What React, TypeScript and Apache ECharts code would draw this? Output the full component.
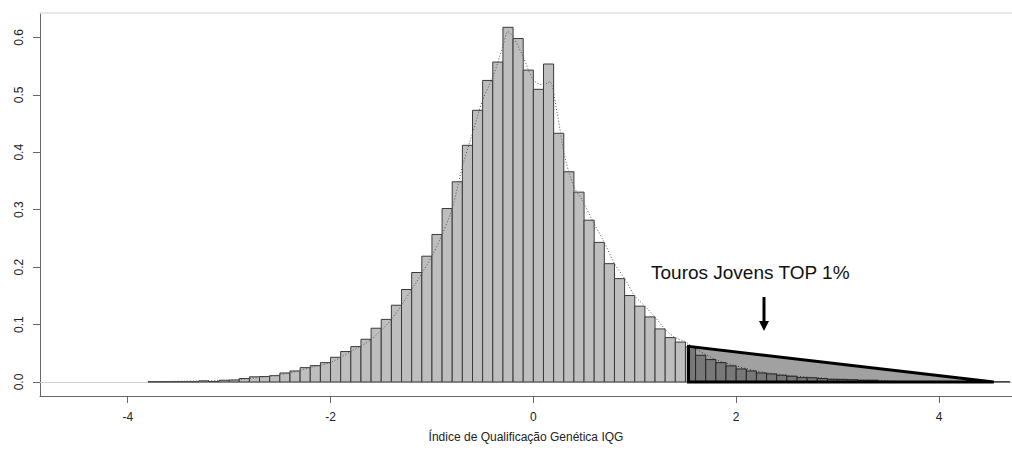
import React, { useEffect, useRef } from "react";
import * as echarts from "echarts";

// Histogram bins (left edge, width 0.1) and densities
const binStarts: number[] = [
  -3.8, -3.7, -3.6, -3.5, -3.4, -3.3, -3.2, -3.1, -3.0, -2.9, -2.8, -2.7, -2.6, -2.5,
  -2.4, -2.3, -2.2, -2.1, -2.0, -1.9, -1.8, -1.7, -1.6, -1.5, -1.4, -1.3, -1.2, -1.1,
  -1.0, -0.9, -0.8, -0.7, -0.6, -0.5, -0.4, -0.3, -0.2, -0.1, 0.0, 0.1, 0.2, 0.3,
  0.4, 0.5, 0.6, 0.7, 0.8, 0.9, 1.0, 1.1, 1.2, 1.3, 1.4, 1.5, 1.6, 1.7, 1.8, 1.9,
  2.0, 2.1, 2.2, 2.3, 2.4, 2.5, 2.6, 2.7, 2.8, 2.9, 3.0, 3.1, 3.2, 3.3, 3.4, 3.5,
  3.6, 3.7, 3.8, 3.9, 4.0, 4.1, 4.2, 4.3, 4.4, 4.5, 4.6,
];
const binValues: number[] = [
  0.0005, 0.0005, 0.0005, 0.0005, 0.0005, 0.002, 0.0008, 0.003, 0.0035, 0.006, 0.009, 0.0095, 0.011, 0.0157,
  0.0192, 0.025, 0.0285, 0.0337, 0.043, 0.053, 0.0616, 0.0744, 0.0936, 0.109, 0.1336, 0.161, 0.1906, 0.219,
  0.2568, 0.302, 0.3485, 0.412, 0.473, 0.525, 0.557, 0.6175, 0.598, 0.543, 0.5095, 0.5536, 0.433, 0.366,
  0.3305, 0.2817, 0.243, 0.206, 0.18, 0.1505, 0.132, 0.1133, 0.0924, 0.0773, 0.0695, 0.061, 0.0465, 0.039, 0.0337, 0.028,
  0.0227, 0.0192, 0.0157, 0.014, 0.0117, 0.01, 0.0076, 0.0074, 0.006, 0.0047, 0.0045, 0.004, 0.003, 0.003, 0.001, 0.0008,
  0.0005, 0.0005, 0.0005, 0.0005, 0.0005, 0.0005, 0.0005, 0.0005, 0.0005, 0.0005, 0.0005,
];
const binWidth = 0.1;

// Dotted density curve
const densityX: number[] = [
  -3.8, -3.0, -2.8, -2.6, -2.4, -2.2, -2.0, -1.8, -1.6, -1.4, -1.2, -1.0, -0.9, -0.8,
  -0.7, -0.6, -0.5, -0.4, -0.3, -0.25, -0.2, -0.1, 0.0, 0.1, 0.16, 0.23, 0.31, 0.4,
  0.48, 0.58, 0.7, 0.8, 0.9, 1.0, 1.1, 1.2, 1.3, 1.4, 1.5, 1.6, 1.8, 2.0, 2.2, 2.4,
  2.6, 2.8, 3.0, 3.4, 3.6, 4.6,
];
const densityY: number[] = [
  0.0005, 0.003, 0.006, 0.01, 0.0157, 0.025, 0.034, 0.053, 0.074, 0.109, 0.161, 0.219, 0.257, 0.302,
  0.375, 0.433, 0.491, 0.531, 0.584, 0.61, 0.601, 0.566, 0.526, 0.517, 0.523, 0.473, 0.392, 0.34,
  0.317, 0.282, 0.243, 0.206, 0.18, 0.15, 0.132, 0.113, 0.092, 0.077, 0.07, 0.058, 0.039, 0.028, 0.019, 0.014,
  0.01, 0.0074, 0.005, 0.003, 0.001, 0.0005,
];

// TOP 1% triangle
const triangleX: number[] = [1.53, 1.53, 4.54];
const triangleY: number[] = [0.062, 0, 0];

const xTicks: number[] = [-4, -2, 0, 2, 4];
const yTicks: number[] = [0, 0.1, 0.2, 0.3, 0.4, 0.5, 0.6];

const annotationText = "Touros Jovens TOP 1%";
const xAxisTitle = "Índice de Qualificação Genética IQG";

const FONT = 'Arial, "Liberation Sans", sans-serif';

export default function App() {
  const ref = useRef<HTMLDivElement>(null);

  useEffect(() => {
    if (!ref.current) return;
    const chart = echarts.init(ref.current, undefined, { renderer: "svg" });

    const option: any = {
      animation: false,
      backgroundColor: "#ffffff",
      grid: { left: 40, right: 0, top: 13, bottom: 59, containLabel: false },
      xAxis: [
        {
          type: "value",
          min: -4.865,
          max: 4.72,
          name: xAxisTitle,
          nameLocation: "middle",
          nameGap: 35,
          nameTextStyle: { fontFamily: FONT, fontSize: 12, color: "#222" },
          axisLine: { show: true, onZero: false, lineStyle: { color: "#666", width: 1 } },
          axisTick: { show: true, customValues: xTicks, length: 7, lineStyle: { color: "#666" } },
          axisLabel: {
            show: true,
            customValues: xTicks,
            margin: 15,
            fontFamily: FONT,
            fontSize: 12,
            color: "#222",
            formatter: (v: number) => String(v),
          },
          splitLine: { show: false },
        },
        {
          type: "value",
          position: "top",
          min: -4.865,
          max: 4.72,
          axisLine: { show: true, onZero: false, lineStyle: { color: "#e0e0e0", width: 1.5 } },
          axisTick: { show: false },
          axisLabel: { show: false },
          splitLine: { show: false },
        },
      ],
      yAxis: {
        type: "value",
        min: -0.0244,
        max: 0.6424,
        axisLine: { show: true, onZero: false, lineStyle: { color: "#666", width: 1 } },
        axisTick: { show: true, customValues: yTicks, length: 7, lineStyle: { color: "#666" } },
        axisLabel: {
          show: true,
          customValues: yTicks,
          rotate: 90,
          margin: 15,
          fontFamily: FONT,
          fontSize: 12,
          color: "#222",
          formatter: (v: number) => v.toFixed(1),
        },
        splitLine: { show: false },
      },
      series: [
        {
          type: "custom",
          name: "hist",
          renderItem: (params: any, api: any) => {
            const x0 = api.value(0);
            const v = api.value(1);
            const p0 = api.coord([x0, v]);
            const p1 = api.coord([x0 + binWidth, 0]);
            return {
              type: "rect",
              shape: { x: p0[0], y: p0[1], width: p1[0] - p0[0], height: p1[1] - p0[1] },
              style: { fill: "#bebebe", stroke: "#3a3a3a", lineWidth: 1 },
            };
          },
          data: binStarts.map((x, i) => [x, binValues[i]]),
          markLine: {
            silent: true,
            symbol: ["none", "none"],
            label: { show: false },
            lineStyle: { color: "#cfcfcf", type: "solid", width: 1 },
            data: [{ yAxis: 0 }],
            z: 1,
          },
          z: 2,
        },
        {
          type: "line",
          name: "density",
          data: densityX.map((x, i) => [x, densityY[i]]),
          smooth: 0.3,
          showSymbol: false,
          lineStyle: { color: "#555", width: 1, type: [1, 2] },
          z: 3,
        },
        {
          type: "custom",
          name: "top1",
          renderItem: (params: any, api: any) => {
            const pts = triangleX.map((x, i) => api.coord([x, triangleY[i]]));
            return {
              type: "polygon",
              shape: { points: pts },
              style: { fill: "rgba(0,0,0,0.37)", stroke: "#000", lineWidth: 3, lineJoin: "miter" },
            };
          },
          data: [[triangleX[0], triangleY[0]]],
          z: 4,
        },
      ],
      graphic: [
        {
          type: "text",
          left: 651,
          top: 263,
          style: { text: annotationText, fontFamily: FONT, fontSize: 19, fill: "#111" },
          z: 10,
        },
        {
          type: "line",
          shape: { x1: 764, y1: 297, x2: 764, y2: 323 },
          style: { stroke: "#000", lineWidth: 3 },
          z: 10,
        },
        {
          type: "polygon",
          shape: { points: [[759, 321], [769, 321], [764, 331]] },
          style: { fill: "#000" },
          z: 10,
        },
      ],
    };

    chart.setOption(option);
    return () => chart.dispose();
  }, []);

  return (
    <div
      ref={ref}
      style={{ position: "absolute", left: 0, top: 0, width: 1012, height: 455, background: "#fff" }}
    />
  );
}
